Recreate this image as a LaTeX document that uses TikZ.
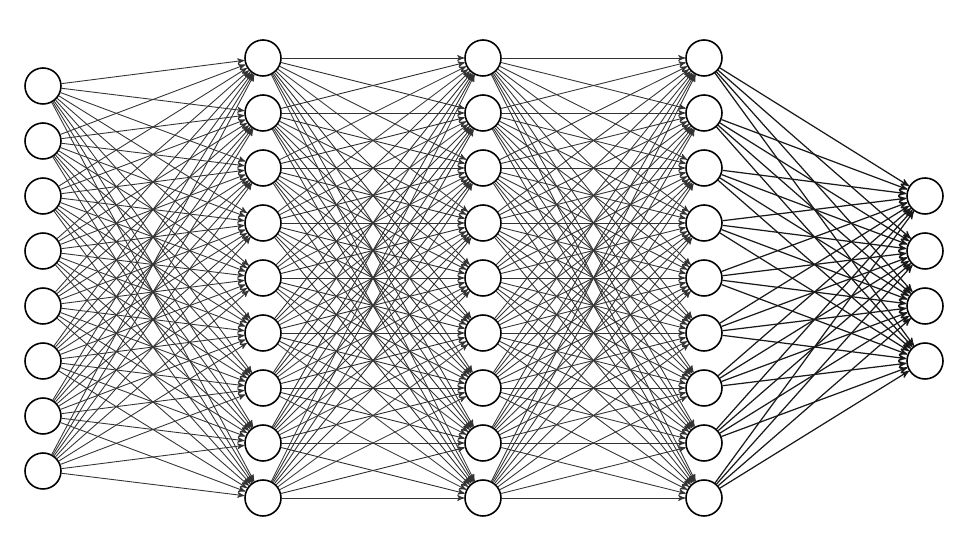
\documentclass[tikz,border=0pt]{standalone}
\usetikzlibrary{arrows}
\tikzset{
	>=stealth'
}
\begin{document}
\begin{tikzpicture}[
x = 0.02cm, y = 0.02cm,
neuron/.style = {
	circle,
	draw,
	line width = 0.9pt,
	fill = white,
	minimum size = 0.72cm,
	inner sep = 0pt
},
synapse/.style = {
	->,
	line width = 0.5pt,
	draw = black!80
}
]
\useasboundingbox (0,0) rectangle (960,540);

% input layer
\foreach \i in {1,...,8}
	\node (in-\i) [neuron] at (43, {454-55*(\i-1)}) {};

% hidden layers
\foreach \l/\x in {1/263,2/483,3/704}
	\foreach \i in {1,...,9}
		\node (h\l-\i) [neuron] at (\x, {482-55*(\i-1)}) {};

% output layer
\foreach \i in {1,...,4}
	\node (out-\i) [neuron] at (925, {344-55*(\i-1)}) {};

\foreach \i in {1,...,8}
	\foreach \j in {1,...,9}
		\draw[synapse] (in-\i) -- (h1-\j);

\foreach \l/\m in {1/2,2/3}
	\foreach \i in {1,...,9}
		\foreach \j in {1,...,9}
			\draw[synapse] (h\l-\i) -- (h\m-\j);

\foreach \i in {1,...,9}
	\foreach \j in {1,...,4}
		\draw[synapse, line width=0.7pt, draw=black!90] (h3-\i) -- (out-\j);

\end{tikzpicture}
\end{document}
